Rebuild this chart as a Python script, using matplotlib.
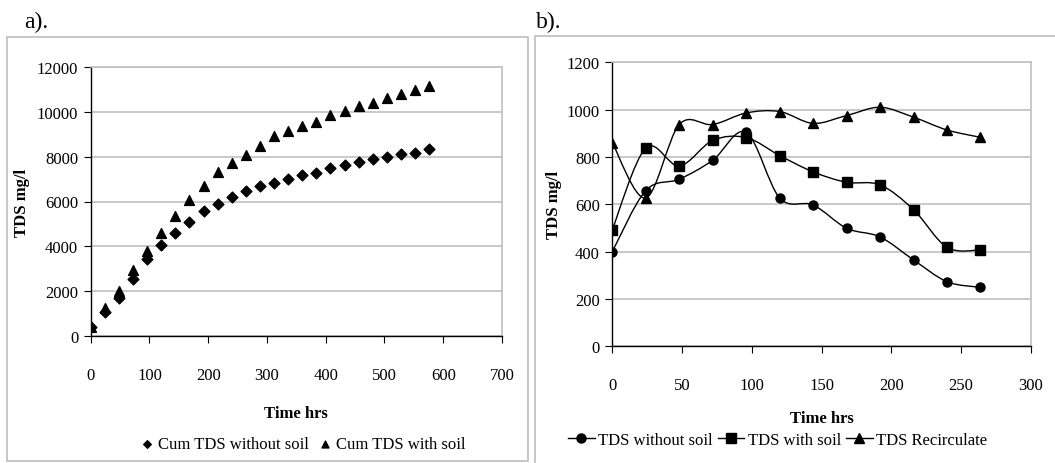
import matplotlib.pyplot as plt
import matplotlib.patches as patches
from matplotlib.path import Path

plt.rcParams['font.family'] = ['Liberation Serif', 'DejaVu Serif']

# ---- data: panel a (cumulative TDS) ----
hours_a = [0, 24, 48, 72, 96, 120, 144, 168, 192, 216, 240, 264, 288, 312,
           336, 360, 384, 408, 432, 456, 480, 504, 528, 552, 576]
cum_without_soil = [420, 1050, 1690, 2540, 3430, 4050, 4600, 5080, 5570, 5910,
                    6190, 6460, 6690, 6810, 7010, 7160, 7280, 7510, 7630, 7780,
                    7910, 8000, 8120, 8180, 8330]
cum_with_soil = [420, 1240, 2000, 2950, 3780, 4600, 5340, 6050, 6690, 7310,
                 7700, 8060, 8480, 8900, 9150, 9370, 9550, 9850, 10050, 10240,
                 10390, 10600, 10780, 10970, 11160]

# ---- data: panel b (TDS concentration) ----
hours_b = [0, 24, 48, 72, 96, 120, 144, 168, 192, 216, 240, 264]
tds_without_soil = [400, 658, 706, 786, 904, 627, 597, 499, 462, 365, 273, 249]
tds_with_soil = [493, 838, 762, 870, 882, 806, 737, 693, 682, 577, 418, 407]
tds_recirculate = [860, 627, 937, 937, 986, 992, 942, 975, 1010, 968, 914, 883]

GRID = '#c0c0c0'


def smooth_path(xs, ys):
    # Excel-like smoothed line: Catmull-Rom segments as cubic Bezier curves
    pts = list(zip(xs, ys))
    verts = [pts[0]]
    codes = [Path.MOVETO]
    n = len(pts)
    for i in range(n - 1):
        p0 = pts[max(i - 1, 0)]
        p1 = pts[i]
        p2 = pts[i + 1]
        p3 = pts[min(i + 2, n - 1)]
        c1 = (p1[0] + (p2[0] - p0[0]) / 6, p1[1] + (p2[1] - p0[1]) / 6)
        c2 = (p2[0] - (p3[0] - p1[0]) / 6, p2[1] - (p3[1] - p1[1]) / 6)
        verts += [c1, c2, p2]
        codes += [Path.CURVE4] * 3
    return Path(verts, codes)


def style_axes(ax, xmax, xstep, ymax, ystep, xlabelpad):
    ax.set_xlim(0, xmax)
    ax.set_ylim(0, ymax)
    ax.set_xticks(range(0, xmax + 1, xstep))
    ax.set_yticks(range(0, ymax + 1, ystep))
    ax.yaxis.grid(True, color=GRID, linewidth=1.2)
    ax.set_axisbelow(True)
    for s in ['top', 'right']:
        ax.spines[s].set_color(GRID)
        ax.spines[s].set_linewidth(1.2)
    for s in ['left', 'bottom']:
        ax.spines[s].set_color('black')
        ax.spines[s].set_linewidth(1.0)
    ax.tick_params(axis='x', direction='out', length=5, pad=17, labelsize=12)
    ax.tick_params(axis='y', direction='out', length=5, pad=4, labelsize=12)
    ax.set_xlabel('Time hrs', fontsize=12, fontweight='bold', labelpad=xlabelpad)
    ax.set_ylabel('TDS mg/l', fontsize=12, fontweight='bold')


fig = plt.figure(figsize=(10.55, 4.64), dpi=100)

# outer chart frames
fig.patches.append(patches.Rectangle((7 / 1055, 2 / 464), 521 / 1055, 424 / 464,
                                     transform=fig.transFigure, fill=False,
                                     edgecolor='#bdbdbd', linewidth=1.2))
fig.patches.append(patches.Rectangle((535 / 1055, -10 / 464), 530 / 1055, 437 / 464,
                                     transform=fig.transFigure, fill=False,
                                     edgecolor='#bdbdbd', linewidth=1.2))
fig.text(24 / 1055, 1 - 22 / 464, 'a).', fontsize=17, va='center', ha='left')
fig.text(536 / 1055, 1 - 22 / 464, 'b).', fontsize=17, va='center', ha='left')

# ---- panel a ----
ax1 = fig.add_axes([90.7 / 1055, 1 - 337 / 464, 411.3 / 1055, 269 / 464])
ax1.scatter(hours_a, cum_without_soil, marker='D', s=30, color='black',
            label='Cum TDS without soil', zorder=3)
ax1.scatter(hours_a, cum_with_soil, marker='^', s=50, color='black',
            label='Cum TDS with soil', zorder=3)
style_axes(ax1, 700, 100, 12000, 2000, 16)
ax1.yaxis.set_label_coords(-0.148, 0.5)
ax1.legend(loc='center', bbox_to_anchor=(0.518, -0.402), ncol=2, frameon=False,
           fontsize=12, handlelength=0.6, handletextpad=0.35, columnspacing=0.7,
           markerscale=0.7, borderaxespad=0)

# ---- panel b ----
ax2 = fig.add_axes([612.3 / 1055, 1 - 347.3 / 464, 418.4 / 1055, 284 / 464])
series_b = [(tds_without_soil, 'o', 'TDS without soil'),
            (tds_with_soil, 's', 'TDS with soil'),
            (tds_recirculate, '^', 'TDS Recirculate')]
for vals, mk, lab in series_b:
    ax2.add_patch(patches.PathPatch(smooth_path(hours_b, vals), fill=False,
                                    edgecolor='black', linewidth=1.0, zorder=3))
    ax2.plot(hours_b, vals, linestyle='none', marker=mk, markersize=6.5,
             color='black', zorder=4)
    ax2.plot([], [], color='black', linewidth=1.0, marker=mk, markersize=6.5,
             label=lab)
style_axes(ax2, 300, 50, 1200, 200, 12)
ax2.yaxis.set_label_coords(-0.12, 0.5)
ax2.legend(loc='center', bbox_to_anchor=(0.395, -0.33), ncol=3, frameon=False,
           fontsize=12, handlelength=1.6, handletextpad=0.2, columnspacing=0.3,
           borderaxespad=0)

fig.savefig('out.png', dpi=100)
